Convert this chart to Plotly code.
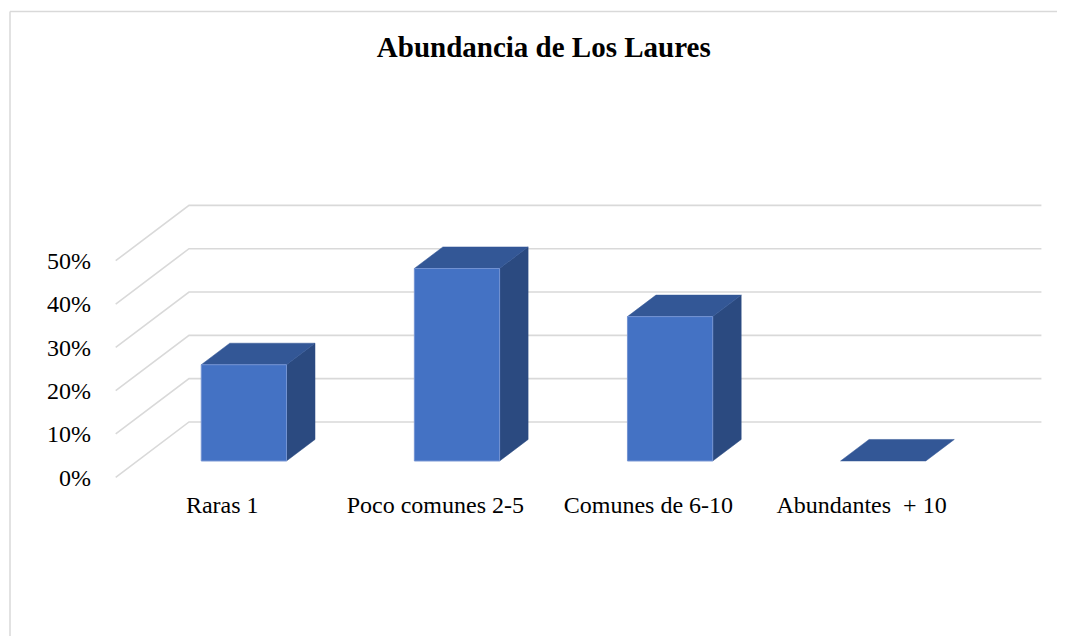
import plotly.graph_objects as go

# ---- data ----
categories = ["Raras 1", "Poco comunes 2-5", "Comunes de 6-10", "Abundantes  + 10"]
values = [22.22, 44.44, 33.33, 0.0]          # percent
y_ticks = [0, 10, 20, 30, 40, 50]
y_tick_labels = ["0%", "10%", "20%", "30%", "40%", "50%"]
title_text = "Abundancia de Los Laures"

# ---- oblique projection parameters (style) ----
DX = 0.344      # depth shift in category units
DY = 12.77      # depth shift in value (%) units
F0, F1 = 0.295, 0.684   # front / back depth of the bars
HW = 0.20       # bar half width (category units)
FRONT = "#4472C4"
TOP = "#335796"
SIDE = "#2B4A80"
GRID = "#D9D9D9"
FONT = "Liberation Serif, Times New Roman, serif"

OFF = 8  # page body margin

def proj(x, v, f):
    return x + DX * f, v + DY * f

fig = go.Figure()

# gridlines: left wall diagonals + back wall horizontals
x_left = -0.5
x_right = len(categories) - 0.5
for t in y_ticks:
    xa, ya = proj(x_left, t, 0)
    xb, yb = proj(x_left, t, 1)
    xc, yc = proj(x_right, t, 1)
    fig.add_trace(go.Scatter(x=[xa, xb, xc], y=[ya, yb, yc], mode="lines",
                             line=dict(color=GRID, width=1.6),
                             hoverinfo="skip", showlegend=False))

def face(pts, color, edge, width):
    xs = [p[0] for p in pts] + [pts[0][0]]
    ys = [p[1] for p in pts] + [pts[0][1]]
    fig.add_trace(go.Scatter(x=xs, y=ys, mode="lines", fill="toself",
                             fillcolor=color, line=dict(color=edge, width=width),
                             hoverinfo="skip", showlegend=False))

for i, v in enumerate(values):
    l, r = i - HW, i + HW
    top = [proj(l, v, F0), proj(r, v, F0), proj(r, v, F1), proj(l, v, F1)]
    if v > 0:
        front = [proj(l, 0, F0), proj(r, 0, F0), proj(r, v, F0), proj(l, v, F0)]
        side = [proj(r, 0, F0), proj(r, 0, F1), proj(r, v, F1), proj(r, v, F0)]
        face(side, SIDE, SIDE, 0.5)
        face(top, TOP, TOP, 0.5)
        face(front, FRONT, "#7393D2", 1)
    else:
        face(top, TOP, TOP, 0.5)

# target page pixel positions, converted to figure pixels
W, H = 1065 - OFF, 636 - OFF
PL, PR, PT, PB = 115 - OFF, 1042 - OFF, 200 - OFF, 478 - OFF

def px2paper_x(px):
    return (px - OFF - PL) / (PR - PL)
def px2paper_y(py):
    return (PB - (py - OFF)) / (PB - PT)

fig.add_shape(type="line", xref="paper", yref="paper",
              x0=px2paper_x(10), x1=px2paper_x(1070),
              y0=px2paper_y(11.5), y1=px2paper_y(11.5),
              line=dict(color="#D9D9D9", width=1.5))
fig.add_shape(type="line", xref="paper", yref="paper",
              x0=px2paper_x(10), x1=px2paper_x(10),
              y0=px2paper_y(11.5), y1=px2paper_y(650),
              line=dict(color="#D9D9D9", width=1.5))

fig.update_layout(
    width=W, height=H,
    margin=dict(l=PL, r=W - PR, t=PT, b=H - PB),
    paper_bgcolor="white", plot_bgcolor="white",
    title=dict(text=title_text, x=(543.8 - OFF) / W, xref="container", xanchor="center",
               y=1 - (47 - OFF) / H, yref="container", yanchor="middle",
               font=dict(family=FONT, size=29, color="#000000", weight="bold")),
    xaxis=dict(range=[-0.5 - 0.7 / 213.1, -0.5 - 0.7 / 213.1 + (PR - PL) / 213.1],
               tickvals=list(range(len(categories))), ticktext=categories,
               showgrid=False, zeroline=False, showline=False, ticks="",
               ticklabelstandoff=10,
               tickfont=dict(family=FONT, size=24, color="#000000"),
               fixedrange=True),
    yaxis=dict(range=[(477.3 - OFF - PB) / 4.332, (477.3 - OFF - PT) / 4.332],
               tickvals=y_ticks, ticktext=y_tick_labels,
               showgrid=False, zeroline=False, showline=False, ticks="",
               ticklabelstandoff=23,
               tickfont=dict(family=FONT, size=24, color="#000000"),
               fixedrange=True),
    showlegend=False,
)

fig.write_html("out.html")
